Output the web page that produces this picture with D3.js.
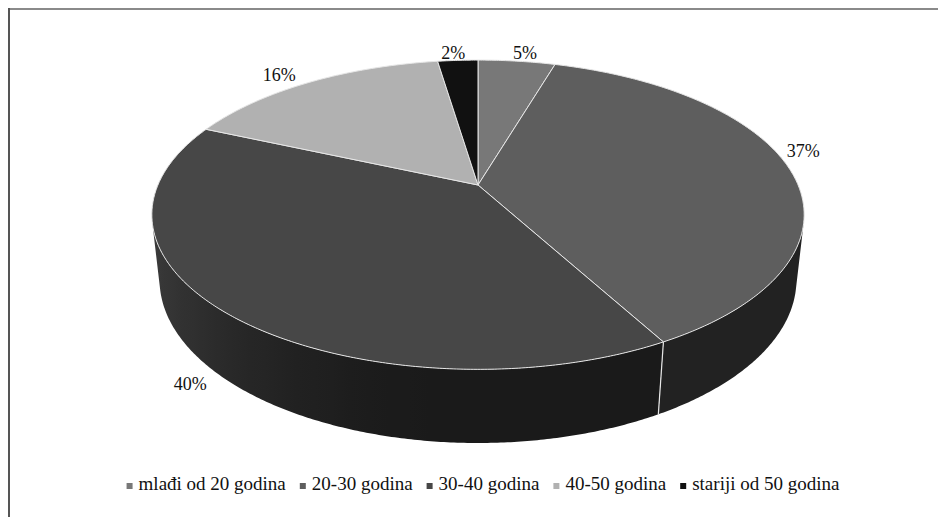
<!DOCTYPE html>
<html>
<head>
<meta charset="utf-8">
<script src="https://cdn.jsdelivr.net/npm/d3@7"></script>
<style>
  html, body { margin: 0; padding: 0; background: #fff; }
  svg { display: block; }
</style>
</head>
<body>
<svg id="chart" width="938" height="517"></svg>
<script>
// ---- data ----
const categories = ["mlađi od 20 godina", "20-30 godina", "30-40 godina", "40-50 godina", "stariji od 50 godina"];
const values = [4.6, 37.4, 39.6, 16.0, 2.4];
const colors = ["#787878", "#5e5e5e", "#474747", "#b1b1b1", "#111111"];

// ---- layout / camera ----
const W = 938, H = 517;
const cam = { cx: 478, cy: 185, f: 1475, R: 0.217, h: 0.0502, sinT: 0.4653 };
cam.cosT = Math.sqrt(1 - cam.sinT * cam.sinT);

function proj(r, phi, z) {
  const x = r * Math.sin(phi), y = r * Math.cos(phi);
  const depth = y * cam.cosT - z * cam.sinT + 1;
  const w = y * cam.sinT + z * cam.cosT;
  return [cam.cx + cam.f * x / depth, cam.cy - cam.f * w / depth];
}

const svg = d3.select("#chart");
const defs = svg.append("defs");

// frame lines
svg.append("line").attr("x1", 8).attr("x2", W).attr("y1", 9).attr("y2", 9)
  .attr("stroke", "#8a8a8a").attr("stroke-width", 2);
svg.append("line").attr("x1", 9).attr("x2", 9).attr("y1", 8).attr("y2", H)
  .attr("stroke", "#555").attr("stroke-width", 2);

const pie = d3.pie().sort(null).value(d => d).startAngle(0).endAngle(2 * Math.PI);
const arcs = pie(values);

const line = d3.line();
const step = Math.PI / 360;

function samples(a0, a1) {
  const n = Math.max(2, Math.ceil((a1 - a0) / step));
  return d3.range(n + 1).map(i => a0 + (a1 - a0) * i / n);
}

// visible wall range
const phiA = Math.acos(-cam.R / cam.cosT);
const phiB = 2 * Math.PI - phiA;

function wallShade(base, phi) {
  const sn = Math.sin(phi);
  const lf = 0.36 + 0.5 * (sn < 0 ? sn * sn : 0);
  return d3.rgb(base.r * lf, base.g * lf, base.b * lf).formatHex();
}

const gWall = svg.append("g");
arcs.forEach((a, i) => {
  const s = Math.max(a.startAngle, phiA), e = Math.min(a.endAngle, phiB);
  if (e <= s) return;
  const base = d3.rgb(colors[i]);
  const angs = samples(s, e);
  const top = angs.map(p => proj(cam.R, p, 0));
  const bot = angs.map(p => proj(cam.R, p, -cam.h)).reverse();
  const x0 = top[0][0], x1 = top[top.length - 1][0];
  const gid = "wall" + i;
  const grad = defs.append("linearGradient").attr("id", gid)
    .attr("gradientUnits", "userSpaceOnUse")
    .attr("x1", x0).attr("x2", x1).attr("y1", 0).attr("y2", 0);
  angs.forEach((p, k) => {
    if (k % 6 !== 0 && k !== angs.length - 1) return;
    grad.append("stop").attr("offset", (top[k][0] - x0) / (x1 - x0)).attr("stop-color", wallShade(base, p));
  });
  gWall.append("path").attr("d", line(top.concat(bot)) + "Z")
    .attr("fill", `url(#${gid})`);
});
// wall dividers
arcs.forEach(a => {
  const phi = a.startAngle;
  if (phi > phiA && phi < phiB) {
    const p0 = proj(cam.R, phi, 0), p1 = proj(cam.R, phi, -cam.h);
    gWall.append("line").attr("x1", p0[0]).attr("y1", p0[1]).attr("x2", p1[0]).attr("y2", p1[1])
      .attr("stroke", "#e8e8e8").attr("stroke-width", 1.2);
  }
});

// top faces
const gTop = svg.append("g");
arcs.forEach((a, i) => {
  const pts = [proj(0, 0, 0)].concat(samples(a.startAngle, a.endAngle).map(p => proj(cam.R, p, 0)));
  gTop.append("path").attr("d", line(pts) + "Z")
    .attr("fill", colors[i]).attr("stroke", "#e6e6e6").attr("stroke-width", 1)
    .attr("stroke-linejoin", "round");
});

// labels
const fmt = d3.format(".0f");
const lab = { rx: 327, cy: 162, ry: 110, gap: 26 };
const gLab = svg.append("g").attr("font-family", "'Liberation Serif', 'Times New Roman', serif")
  .attr("font-size", 18).attr("fill", "#111");
arcs.forEach((a, i) => {
  const mid = (a.startAngle + a.endAngle) / 2;
  let x, y, anchor;
  if (Math.cos(mid) >= 0) {
    x = cam.cx + lab.rx * Math.sin(mid);
    y = lab.cy - lab.ry * Math.cos(mid);
    anchor = "middle";
  } else {
    const p = proj(cam.R, mid, -cam.h);
    const sd = Math.sin(mid) < 0 ? -1 : 1;
    x = p[0] + sd * lab.gap;
    y = p[1];
    anchor = sd < 0 ? "end" : "start";
  }
  gLab.append("text").attr("x", x).attr("y", y).attr("text-anchor", anchor)
    .attr("dy", "0.35em").text(fmt(values[i]) + "%");
});

// legend
const gLeg = svg.append("g").attr("font-family", "'Liberation Serif', 'Times New Roman', serif")
  .attr("font-size", 19).attr("fill", "#111");
const legY = 490, mk = 6, mkGap = 6, itemGap = 14;
const items = categories.map((c, i) => {
  const g = gLeg.append("g");
  g.append("rect").attr("x", 0).attr("y", -mk - 1).attr("width", mk).attr("height", mk).attr("fill", colors[i]);
  const t = g.append("text").attr("x", mk + mkGap).attr("y", 0).text(c);
  return { g, w: mk + mkGap + t.node().getComputedTextLength() };
});
const total = d3.sum(items, d => d.w) + itemGap * (items.length - 1);
let xPos = 483 - total / 2;
items.forEach(it => {
  it.g.attr("transform", `translate(${xPos},${legY})`);
  xPos += it.w + itemGap;
});
</script>
</body>
</html>
